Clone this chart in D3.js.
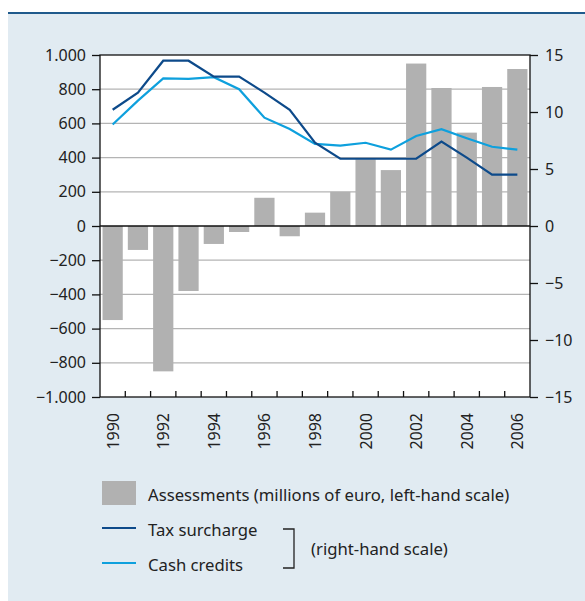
<!DOCTYPE html>
<html>
<head>
<meta charset="utf-8">
<script src="https://cdn.jsdelivr.net/npm/d3@7"></script>
<style>
  html, body { margin: 0; padding: 0; background: #fff; }
  text { font-family: "Noto Sans", sans-serif; fill: #222; }
</style>
</head>
<body>
<div id="root"></div>
<script>
const years = d3.range(1990, 2007);
// assessments, millions of euro (left-hand scale)
const assessments = [-550, -140, -850, -380, -105, -35, 165, -60, 78, 200, 390, 327, 950, 807, 546, 813, 918];
// right-hand scale
const taxSurcharge = [10.2, 11.7, 14.5, 14.5, 13.1, 13.1, 11.7, 10.2, 7.3, 5.9, 5.9, 5.9, 5.9, 7.4, 6.0, 4.5, 4.5];
const cashCredits = [8.9, 11.0, 12.95, 12.9, 13.05, 12.0, 9.5, 8.5, 7.2, 7.05, 7.3, 6.7, 7.9, 8.5, 7.7, 6.95, 6.7];
const leftTicks = [-1000, -800, -600, -400, -200, 0, 200, 400, 600, 800, 1000];
const rightTicks = [-15, -10, -5, 0, 5, 10, 15];

const width = 585;
const height = 601;
const plot = { left: 100, right: 530, top: 55, bottom: 397 };
const darkBlue = "#0d4a8a";
const lightBlue = "#0ea0dd";
const barGray = "#b1b1b1";

const fmt = (v) => {
  const s = d3.format(",")(Math.abs(v)).replace(",", ".");
  return (v < 0 ? "\u2212" : "") + s;
};

const svg = d3
  .select("#root")
  .append("svg")
  .attr("width", width)
  .attr("height", height);

// panel
svg.append("rect")
  .attr("x", 8).attr("y", 13)
  .attr("width", width - 8).attr("height", 588)
  .attr("fill", "#e1ebf2");
svg.append("line")
  .attr("x1", 8).attr("x2", width)
  .attr("y1", 13).attr("y2", 13)
  .attr("stroke", "#1f5a8c").attr("stroke-width", 2);

const x = d3.scaleBand()
  .domain(years)
  .range([plot.left, plot.right])
  .paddingInner(0.2)
  .paddingOuter(0.1);

const yL = d3.scaleLinear().domain([-1000, 1000]).range([plot.bottom, plot.top]);
const yR = d3.scaleLinear().domain([-15, 15]).range([plot.bottom, plot.top]);

svg.append("rect")
  .attr("x", plot.left).attr("y", plot.top)
  .attr("width", plot.right - plot.left).attr("height", plot.bottom - plot.top)
  .attr("fill", "#fff");

// grid
svg.append("g")
  .selectAll("line")
  .data(leftTicks.filter((d) => d !== 0 && Math.abs(d) !== 1000))
  .join("line")
  .attr("x1", plot.left).attr("x2", plot.right)
  .attr("y1", (d) => yL(d)).attr("y2", (d) => yL(d))
  .attr("stroke", "#b4b4b4").attr("stroke-width", 1.3);

// bars
svg.append("g")
  .selectAll("rect")
  .data(assessments)
  .join("rect")
  .attr("x", (d, i) => x(years[i]))
  .attr("width", x.bandwidth())
  .attr("y", (d) => yL(Math.max(0, d)))
  .attr("height", (d) => Math.abs(yL(d) - yL(0)))
  .attr("fill", barGray);

// zero line
svg.append("line")
  .attr("x1", plot.left).attr("x2", plot.right)
  .attr("y1", yL(0)).attr("y2", yL(0))
  .attr("stroke", "#111").attr("stroke-width", 1.5);

// lines
const line = d3.line()
  .x((d, i) => x(years[i]) + x.bandwidth() / 2)
  .y((d) => yR(d));

svg.append("path")
  .datum(cashCredits)
  .attr("d", line)
  .attr("fill", "none")
  .attr("stroke", lightBlue)
  .attr("stroke-width", 2.2);

svg.append("path")
  .datum(taxSurcharge)
  .attr("d", line)
  .attr("fill", "none")
  .attr("stroke", darkBlue)
  .attr("stroke-width", 2.2);

// frame
svg.append("rect")
  .attr("x", plot.left).attr("y", plot.top)
  .attr("width", plot.right - plot.left).attr("height", plot.bottom - plot.top)
  .attr("fill", "none")
  .attr("stroke", "#111").attr("stroke-width", 1.3);

// left axis
const leftAxis = svg.append("g")
  .attr("transform", `translate(${plot.left},0)`)
  .call(d3.axisLeft(yL).tickValues(leftTicks).tickSize(8).tickPadding(6).tickFormat(fmt));
leftAxis.select(".domain").remove();

// right axis
const rightAxis = svg.append("g")
  .attr("transform", `translate(${plot.right},0)`)
  .call(d3.axisRight(yR).tickValues(rightTicks).tickSize(8).tickPadding(7).tickFormat(fmt));
rightAxis.select(".domain").remove();

[leftAxis, rightAxis].forEach((g) => {
  g.selectAll(".tick line").attr("stroke", "#111").attr("stroke-width", 1.3);
  g.selectAll(".tick text")
    .style("font-size", "16px")
    .style("font-family", "'Noto Sans', sans-serif")
    .attr("fill", "#222");
});

// bottom ticks at band boundaries, pointing into the plot
const step = x.step();
svg.append("g")
  .selectAll("line")
  .data(years.slice(1))
  .join("line")
  .attr("x1", (d) => x(d) - (step - x.bandwidth()) / 2)
  .attr("x2", (d) => x(d) - (step - x.bandwidth()) / 2)
  .attr("y1", plot.bottom).attr("y2", plot.bottom - 6)
  .attr("stroke", "#111").attr("stroke-width", 1.3);

// year labels
svg.append("g")
  .selectAll("text")
  .data(years.filter((d) => d % 2 === 0))
  .join("text")
  .attr("transform", (d) => `translate(${x(d) + x.bandwidth() / 2 + 6},${plot.bottom + 16}) rotate(-90)`)
  .attr("text-anchor", "end")
  .style("font-size", "16px")
  .text((d) => d);

// legend
const legend = svg.append("g");
legend.append("rect")
  .attr("x", 102).attr("y", 481)
  .attr("width", 34).attr("height", 24)
  .attr("fill", barGray);
legend.append("text")
  .attr("x", 148).attr("y", 501)
  .style("font-size", "16.7px")
  .text("Assessments (millions of euro, left-hand scale)");

const legendLines = [
  { label: "Tax surcharge", color: darkBlue, y: 528 },
  { label: "Cash credits", color: lightBlue, y: 563 },
];
legendLines.forEach((d) => {
  legend.append("line")
    .attr("x1", 102).attr("x2", 136)
    .attr("y1", d.y).attr("y2", d.y)
    .attr("stroke", d.color).attr("stroke-width", 2.2);
  legend.append("text")
    .attr("x", 148).attr("y", d.y + 8)
    .style("font-size", "16.7px")
    .text(d.label);
});

// bracket
legend.append("path")
  .attr("d", "M283,529H294V568H283")
  .attr("fill", "none")
  .attr("stroke", "#222").attr("stroke-width", 1.3);
legend.append("text")
  .attr("x", 311).attr("y", 555)
  .style("font-size", "16.7px")
  .text("(right-hand scale)");
</script>
</body>
</html>
